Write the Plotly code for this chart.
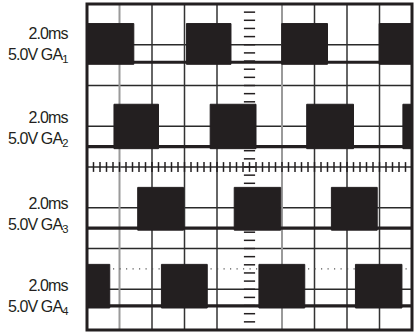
import numpy as np
import plotly.graph_objects as go

# ---- data (divisions: x 0..10 = 2.0ms/div, y 0..8 graticule) ----
channels = ["GA1", "GA2", "GA3", "GA4"]
label_sub = ["1", "2", "3", "4"]
high_level = [7.52, 5.54, 3.50, 1.61]
low_level = [6.57, 4.50, 2.50, 0.59]
ga1_rise = [0.00, 3.06, 5.99, 8.99]
ga1_fall = [1.44, 4.43, 7.40, 10.0]
ga2_rise = [0.83, 3.79, 6.76, 9.72]
ga2_fall = [2.20, 5.20, 8.20, 10.0]
ga3_rise = [1.56, 4.53, 7.52]
ga3_fall = [2.97, 5.96, 8.93]
ga4_rise = [0.00, 2.29, 5.29, 8.26]
ga4_fall = [0.70, 3.70, 6.70, 9.69]
rises = [ga1_rise, ga2_rise, ga3_rise, ga4_rise]
falls = [ga1_fall, ga2_fall, ga3_fall, ga4_fall]
time_label = "2.0ms"
volt_label = "5.0V"
ref_dot_level = 1.5

# layout positions
label_y = [7.0, 4.94, 2.82, 0.81]
INK = "#231f20"

fig = go.Figure()

# graticule lines (shapes)
shapes = []
for yv in range(1, 8):
    shapes.append(dict(type="line", xref="x", yref="y", x0=0, x1=10, y0=yv, y1=yv,
                       line=dict(color="#2a2a2a", width=1.5), layer="below"))
for xv in [1, 2, 3, 4, 6, 7, 8, 9]:
    col = "#9a9a9a" if xv in (1, 6) else "#333333"
    wid = 2 if xv in (1, 6) else 1.5
    shapes.append(dict(type="line", xref="x", yref="y", x0=xv, x1=xv, y0=0, y1=8,
                       line=dict(color=col, width=wid), layer="below"))
# frame
shapes.append(dict(type="rect", xref="paper", yref="paper", x0=0, x1=1, y0=0, y1=1,
                   line=dict(color=INK, width=3), layer="above"))

# center tick marks
ty = np.round(np.arange(0, 8.001, 0.2), 3)
tx = np.round(np.arange(0, 10.001, 0.2), 3)
fig.add_trace(go.Scatter(x=[5] * len(ty), y=ty, mode="markers", hoverinfo="skip",
                         marker=dict(symbol="line-ew", size=8, line=dict(color=INK, width=1.5))))
fig.add_trace(go.Scatter(x=tx, y=[4] * len(tx), mode="markers", hoverinfo="skip",
                         marker=dict(symbol="line-ns", size=7, line=dict(color=INK, width=1.5))))

# dotted reference trace in GA4 area
fig.add_trace(go.Scatter(x=[0, 10], y=[ref_dot_level, ref_dot_level], mode="lines", hoverinfo="skip",
                         line=dict(color="#555555", width=1.2, dash="1.2px,5.3px")))

# channels
for i in range(4):
    lo, hi = low_level[i], high_level[i]
    fig.add_trace(go.Scatter(x=[0, 10], y=[lo, lo], mode="lines", hoverinfo="skip",
                             line=dict(color=INK, width=3.2)))
    xs, ys = [], []
    for r, f in zip(rises[i], falls[i]):
        xs += [r, r, f, f, r, None]
        ys += [lo - 0.05, hi, hi, lo - 0.05, lo - 0.05, None]
    fig.add_trace(go.Scatter(x=xs, y=ys, mode="lines", fill="toself", fillcolor=INK,
                             hoverinfo="skip", line=dict(color=INK, width=1)))

annotations = []
for i in range(4):
    annotations.append(dict(
        xref="paper", yref="y", x=-0.052, y=label_y[i], xanchor="right", yanchor="middle",
        align="right", showarrow=False,
        text=(f"<span style='letter-spacing:-0.9px'>{time_label}</span><br>"
              f"<span style='letter-spacing:-0.9px'>{volt_label} GA<sub>{label_sub[i]}</sub></span>"),
        font=dict(family="Liberation Sans, Arial, sans-serif", size=16, color=INK)))

fig.update_layout(
    width=417, height=333,
    margin=dict(l=87, r=5, t=4, b=3),
    paper_bgcolor="white", plot_bgcolor="white",
    showlegend=False,
    shapes=shapes, annotations=annotations,
    xaxis=dict(range=[0, 10], showgrid=False, zeroline=False, showticklabels=False,
               ticks="", fixedrange=True),
    yaxis=dict(range=[0, 8], showgrid=False, zeroline=False, showticklabels=False,
               ticks="", fixedrange=True),
)

fig.write_html("out.html", config={"displayModeBar": False})
